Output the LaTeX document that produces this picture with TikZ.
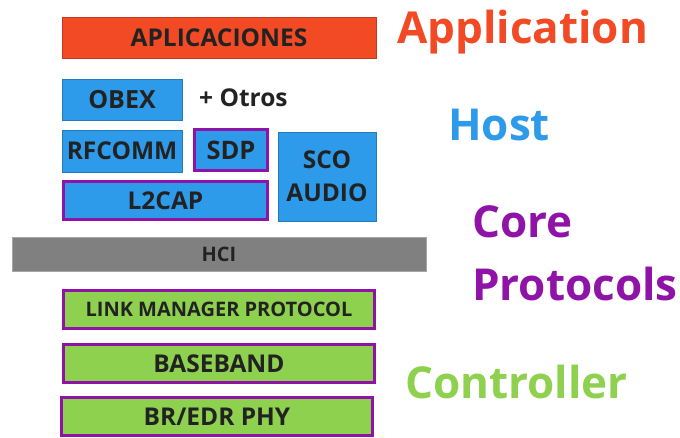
\documentclass[tikz,border=0pt]{standalone}
\usepackage{fontspec}
\setmainfont{Open Sans}
\definecolor{appred}{HTML}{F24A25}
\definecolor{hostblue}{HTML}{2D9BEA}
\definecolor{corepurple}{HTML}{9013A8}
\definecolor{ctrlgreen}{HTML}{8ED14F}
\definecolor{hcigray}{HTML}{808080}
\definecolor{txtdark}{HTML}{222222}
\tikzset{
  layer/.style={rectangle, inner sep=0pt, anchor=center, text=txtdark, font=\bfseries\fontsize{24.5}{28}\selectfont, align=center},
  appbox/.style={layer, fill=appred, draw=appred!80!black, line width=0.6pt},
  hostbox/.style={layer, fill=hostblue, draw=hostblue!80!black, line width=0.6pt},
  corehost/.style={layer, fill=hostblue, draw=corepurple, line width=3pt},
  corectrl/.style={layer, fill=ctrlgreen, draw=corepurple, line width=3pt},
  hcibox/.style={layer, fill=hcigray, draw=hcigray!70!white, line width=0.6pt},
  biglabel/.style={anchor=base west, inner sep=0pt, font=\bfseries\fontsize{44}{52}\selectfont}
}
\begin{document}
\begin{tikzpicture}[x=1pt,y=-1pt]
\useasboundingbox[fill=white] (0,0) rectangle (680,437);
\node[appbox, minimum width=314pt, minimum height=41pt] (apl) at (219,37.5) {APLICACIONES};
\node[hostbox, minimum width=120pt, minimum height=41pt, font=\bfseries\fontsize{25}{28}\selectfont] (obex) at (122,99.5) {OBEX};
\node[anchor=base west, inner sep=0pt, text=txtdark, font=\bfseries\fontsize{24.5}{28}\selectfont] (otros) at (199,106) {+ Otros};
\node[hostbox, minimum width=120pt, minimum height=42pt] (rfcomm) at (122,151) {RFCOMM};
\node[corehost, minimum width=73pt, minimum height=41pt, font=\bfseries\fontsize{25.5}{28}\selectfont] (sdp) at (231,150) {SDP};
\node[corehost, minimum width=204pt, minimum height=38pt] (l2cap) at (165.5,200.5) {L2CAP};
\node[hostbox, minimum width=98pt, minimum height=89pt, font=\bfseries\fontsize{24.5}{33}\selectfont] (sco) at (327,176.5) {SCO\\AUDIO};
\node[hcibox, minimum width=414pt, minimum height=34pt, font=\bfseries\fontsize{20}{22}\selectfont] (hci) at (219,254) {HCI};
\node[corectrl, minimum width=311pt, minimum height=38pt, font=\bfseries\fontsize{20}{22}\selectfont] (lmp) at (219,309.5) {LINK MANAGER PROTOCOL};
\node[corectrl, minimum width=311pt, minimum height=38pt] (bb) at (219,363.5) {BASEBAND};
\node[corectrl, minimum width=311pt, minimum height=38pt] (phy) at (217,416.5) {BR/EDR PHY};
\node[biglabel, text=appred] (lapp) at (397,43) {Application};
\node[biglabel, text=hostblue] (lhost) at (448,140) {Host};
\node[biglabel, text=corepurple] (lcore) at (472,237) {Core};
\node[biglabel, text=corepurple] (lprot) at (472,300) {Protocols};
\node[biglabel, text=ctrlgreen] (lctrl) at (405,398) {Controller};
\end{tikzpicture}
\end{document}
